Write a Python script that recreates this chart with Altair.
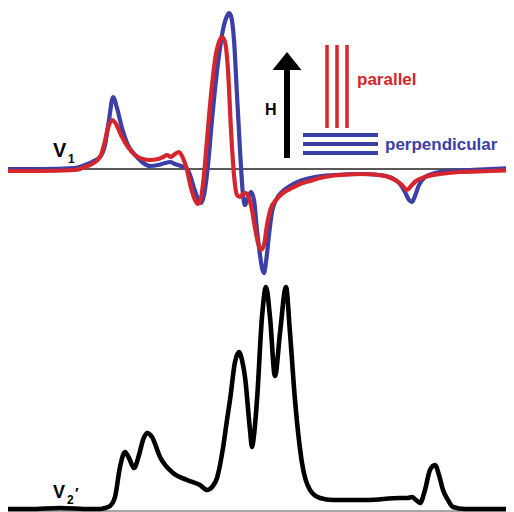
import altair as alt
import pandas as pd

# V1 spectra (x = field position, y = signal, picture units; y grows downward)
blue_x = [8, 40, 75, 85, 92, 100, 105, 109, 113, 117, 122, 128, 135, 142, 150, 158, 165, 170, 175, 181,
          186, 190, 194, 198, 201, 204, 208, 212, 216, 220, 224, 227, 229, 231, 234, 237, 240, 243, 245, 248,
          251, 254, 257, 260, 262, 264, 266, 269, 272, 276, 282, 290, 300, 315, 335, 360, 380, 392, 400, 405,
          409, 412, 415, 419, 425, 435, 450, 470, 490, 514]
blue_y = [169, 169, 168, 165, 162, 157, 145, 120, 97, 108, 128, 145, 155, 162, 166, 165, 163, 162, 164, 166,
          168, 175, 188, 199, 203, 195, 165, 120, 80, 48, 25, 16, 13, 16, 40, 95, 150, 195, 205, 198,
          192, 200, 230, 255, 268, 273, 262, 235, 212, 200, 192, 186, 181, 177, 175, 174, 175, 178, 184, 192,
          200, 202, 196, 185, 177, 173, 171, 170, 169, 168]

red_x = [8, 40, 75, 85, 92, 100, 104, 108, 112, 116, 121, 128, 135, 143, 150, 158, 163, 167, 171, 175,
         179, 183, 187, 191, 195, 198, 201, 204, 207, 211, 215, 219, 222, 225, 228, 231, 234, 237, 240, 243,
         246, 249, 252, 255, 258, 261, 264, 267, 271, 276, 283, 292, 300, 306, 310, 320, 340, 365, 385, 395,
         402, 407, 411, 416, 425, 440, 460, 490, 514]
red_y = [171, 171, 170, 167, 164, 157, 145, 128, 120, 124, 135, 147, 155, 159, 160, 159, 157, 155, 157, 154,
         152, 158, 170, 188, 200, 204, 198, 175, 140, 95, 60, 42, 37, 42, 70, 130, 175, 195, 197, 194,
         193, 198, 210, 228, 243, 250, 245, 225, 208, 200, 193, 188, 184, 182, 181, 178, 175, 174, 176, 180,
         185, 190, 186, 181, 177, 174, 172, 171, 170]

# V2' spectrum
black_x = [8, 30, 60, 90, 100, 105, 110, 115, 120, 125, 129, 134, 139, 143, 147, 152, 160, 173, 187, 200,
           207, 212, 217, 223, 227, 230, 235, 239, 242, 245, 250, 252, 254, 257, 262, 266, 270, 275, 280, 286,
           290, 295, 302, 310, 320, 333, 367, 400, 408, 412, 416, 420, 425, 430, 435, 439, 443, 448, 453, 465,
           490, 514]
black_y = [509, 509, 508, 509, 509, 508, 506, 497, 467, 452, 458, 468, 455, 440, 433, 437, 457, 473, 480, 485,
           490, 487, 478, 448, 420, 400, 362, 352, 360, 377, 430, 447, 435, 400, 317, 287, 317, 376, 333, 287,
           333, 400, 463, 490, 498, 500, 500, 498, 498, 497, 500, 503, 490, 470, 465, 475, 490, 500, 507, 509,
           509, 509]

# guide lines
base_y = [169, 511]
base_x0 = [8, 8]
base_x1 = [514, 514]

par_x = [327, 337, 347]
par_top = [45, 45, 45]
par_bot = [128, 128, 128]

perp_y = [135, 144, 153]
perp_x0 = [303, 303, 303]
perp_x1 = [378, 378, 378]

arrow_x = [287]
arrow_y0 = [158]
arrow_y1 = [66]
head_x = [287]
head_y = [61]

XS = alt.Scale(domain=[8, 506], nice=False, zero=False)
YS = alt.Scale(domain=[8, 512], reverse=True, nice=False, zero=False)


def X(f):
    return alt.X(f, type="quantitative", scale=XS, axis=None)


def Y(f):
    return alt.Y(f, type="quantitative", scale=YS, axis=None)


df_base = pd.DataFrame({"x": base_x0, "x2": base_x1, "y": base_y, "k": ["top", "bottom"]})
base = alt.Chart(df_base).mark_rule(strokeWidth=1.3).encode(
    x=X("x"), x2="x2", y=Y("y"),
    color=alt.Color("k:N", scale=alt.Scale(domain=["top", "bottom"], range=["#222222", "#8a8a8a"]), legend=None),
)

def spectrum(xs, ys, color, w):
    d = pd.DataFrame({"x": xs, "y": ys})
    return alt.Chart(d).mark_line(color=color, strokeWidth=w, interpolate="monotone",
                                  strokeCap="round", strokeJoin="round").encode(
        x=X("x"), y=Y("y"), order="x:Q")

blue = spectrum(blue_x, blue_y, "#3b3fa6", 4.2)
red = spectrum(red_x, red_y, "#d4262c", 4.2)
black = spectrum(black_x, black_y, "#000000", 4.6)

par = alt.Chart(pd.DataFrame({"x": par_x, "y": par_top, "y2": par_bot})).mark_rule(
    color="#d4262c", strokeWidth=3.5).encode(x=X("x"), y=Y("y"), y2="y2")
perp = alt.Chart(pd.DataFrame({"x": perp_x0, "x2": perp_x1, "y": perp_y})).mark_rule(
    color="#3b3fa6", strokeWidth=4).encode(x=X("x"), x2="x2", y=Y("y"))
shaft = alt.Chart(pd.DataFrame({"x": arrow_x, "y": arrow_y0, "y2": arrow_y1})).mark_rule(
    color="#000000", strokeWidth=6).encode(x=X("x"), y=Y("y"), y2="y2")
head = alt.Chart(pd.DataFrame({"x": head_x, "y": head_y})).mark_point(
    shape="M-1,0.62L1,0.62L0,-0.62Z", size=841, filled=True, color="#000000", opacity=1).encode(
    x=X("x"), y=Y("y"))

labels = pd.DataFrame({
    "t": ["V", "1", "V", "2", "\u2032", "H", "parallel", "perpendicular"],
    "x": [53, 68, 53, 67, 75, 265, 357, 385],
    "y": [157, 163, 498, 504, 498, 115, 85, 150],
    "k": ["big", "sub", "big2", "sub", "prime", "H", "par", "perp"],
})

def txt(kind, size, color):
    return alt.Chart(labels).transform_filter(alt.datum.k == kind).mark_text(
        align="left", baseline="alphabetic", font="Liberation Sans", fontWeight="bold",
        fontSize=size, color=color).encode(x=X("x"), y=Y("y"), text="t:N")

texts = [
    txt("big", 20, "#000000"),
    txt("big2", 18, "#000000"),
    txt("sub", 12, "#000000"),
    txt("prime", 15, "#000000"),
    txt("H", 16, "#000000"),
    txt("par", 17, "#d4262c"),
    txt("perp", 17, "#3b3fa6"),
]

chart = alt.layer(base, black, blue, red, par, perp, shaft, head, *texts).properties(
    width=498, height=504, padding=0, autosize="none"
).configure_view(stroke=None)

chart.save("out.html", embed_options={"renderer": "svg", "actions": False})
